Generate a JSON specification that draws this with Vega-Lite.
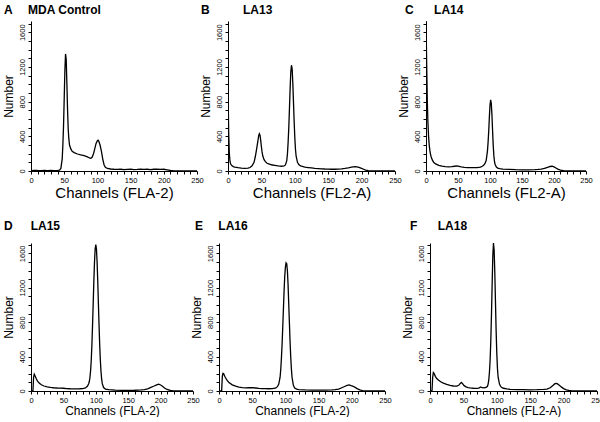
{
"$schema": "https://vega.github.io/schema/vega-lite/v6.json",
"padding": {"left": 1, "top": 4, "right": 0, "bottom": 0},
"background": "white",
"config": {
 "view": {"stroke": null},
 "font": "Liberation Sans",
 "axis": {"domainColor": "black", "domainWidth": 1, "tickColor": "black", "tickSize": 3, "tickWidth": 1, "labelColor": "black", "labelFont": "Liberation Sans", "titleFont": "Liberation Sans", "titleFontWeight": "normal", "titleColor": "black", "grid": false, "labelOverlap": false, "labelFlush": false},
 "axisX": {"labelFontSize": 7.5, "labelPadding": 2, "titlePadding": 2},
 "axisY": {"labelFontSize": 7.5, "labelAngle": -90, "labelAlign": "center", "labelBaseline": "bottom", "labelPadding": 2, "titleFontSize": 12, "titlePadding": 3},
 "title": {"font": "Liberation Sans", "fontSize": 12, "fontWeight": "bold", "anchor": "start", "frame": "group", "color": "black", "baseline": "alphabetic"},
 "line": {"color": "black", "strokeWidth": 1.3}
},
"datasets": {"h": [
{"p":"A","ch":0,"n":5},{"p":"A","ch":5,"n":8},{"p":"A","ch":10,"n":6},{"p":"A","ch":15,"n":5},{"p":"A","ch":20,"n":7},{"p":"A","ch":25,"n":5},{"p":"A","ch":30,"n":6},{"p":"A","ch":35,"n":5},{"p":"A","ch":40,"n":7},{"p":"A","ch":43,"n":10},{"p":"A","ch":45,"n":30},{"p":"A","ch":47,"n":140},{"p":"A","ch":48,"n":300},{"p":"A","ch":49,"n":520},{"p":"A","ch":50,"n":830},{"p":"A","ch":51,"n":1150},{"p":"A","ch":52,"n":1350},{"p":"A","ch":53,"n":1290},{"p":"A","ch":54,"n":1020},{"p":"A","ch":55,"n":720},{"p":"A","ch":56,"n":490},{"p":"A","ch":57,"n":370},{"p":"A","ch":58,"n":300},{"p":"A","ch":60,"n":255},{"p":"A","ch":62,"n":228},{"p":"A","ch":65,"n":212},{"p":"A","ch":70,"n":196},{"p":"A","ch":75,"n":185},{"p":"A","ch":80,"n":176},{"p":"A","ch":85,"n":162},{"p":"A","ch":88,"n":150},{"p":"A","ch":90,"n":146},{"p":"A","ch":92,"n":158},{"p":"A","ch":94,"n":195},{"p":"A","ch":96,"n":255},{"p":"A","ch":98,"n":318},{"p":"A","ch":100,"n":350},{"p":"A","ch":101,"n":356},{"p":"A","ch":102,"n":346},{"p":"A","ch":104,"n":300},{"p":"A","ch":106,"n":230},{"p":"A","ch":108,"n":140},{"p":"A","ch":110,"n":72},{"p":"A","ch":112,"n":42},{"p":"A","ch":115,"n":29},{"p":"A","ch":120,"n":23},{"p":"A","ch":125,"n":20},{"p":"A","ch":130,"n":18},{"p":"A","ch":135,"n":20},{"p":"A","ch":140,"n":17},{"p":"A","ch":145,"n":19},{"p":"A","ch":150,"n":21},{"p":"A","ch":155,"n":17},{"p":"A","ch":160,"n":18},{"p":"A","ch":165,"n":20},{"p":"A","ch":170,"n":18},{"p":"A","ch":175,"n":20},{"p":"A","ch":180,"n":17},{"p":"A","ch":185,"n":20},{"p":"A","ch":190,"n":22},{"p":"A","ch":195,"n":19},{"p":"A","ch":200,"n":20},{"p":"A","ch":205,"n":14},{"p":"A","ch":210,"n":6},{"p":"A","ch":215,"n":2},{"p":"A","ch":220,"n":1},{"p":"A","ch":230,"n":0},{"p":"A","ch":250,"n":0},
{"p":"B","ch":0,"n":1000},{"p":"B","ch":1,"n":450},{"p":"B","ch":2,"n":200},{"p":"B","ch":3,"n":110},{"p":"B","ch":4,"n":80},{"p":"B","ch":6,"n":60},{"p":"B","ch":8,"n":50},{"p":"B","ch":10,"n":45},{"p":"B","ch":15,"n":38},{"p":"B","ch":20,"n":32},{"p":"B","ch":25,"n":30},{"p":"B","ch":30,"n":32},{"p":"B","ch":33,"n":40},{"p":"B","ch":36,"n":60},{"p":"B","ch":39,"n":100},{"p":"B","ch":41,"n":170},{"p":"B","ch":43,"n":260},{"p":"B","ch":45,"n":360},{"p":"B","ch":46,"n":410},{"p":"B","ch":47,"n":430},{"p":"B","ch":48,"n":410},{"p":"B","ch":49,"n":350},{"p":"B","ch":50,"n":280},{"p":"B","ch":51,"n":220},{"p":"B","ch":52,"n":175},{"p":"B","ch":54,"n":130},{"p":"B","ch":56,"n":108},{"p":"B","ch":58,"n":92},{"p":"B","ch":60,"n":84},{"p":"B","ch":65,"n":72},{"p":"B","ch":70,"n":65},{"p":"B","ch":75,"n":58},{"p":"B","ch":80,"n":55},{"p":"B","ch":84,"n":58},{"p":"B","ch":86,"n":70},{"p":"B","ch":88,"n":120},{"p":"B","ch":89,"n":200},{"p":"B","ch":90,"n":330},{"p":"B","ch":91,"n":500},{"p":"B","ch":92,"n":720},{"p":"B","ch":93,"n":950},{"p":"B","ch":94,"n":1140},{"p":"B","ch":95,"n":1220},{"p":"B","ch":96,"n":1180},{"p":"B","ch":97,"n":1020},{"p":"B","ch":98,"n":800},{"p":"B","ch":99,"n":580},{"p":"B","ch":100,"n":390},{"p":"B","ch":101,"n":250},{"p":"B","ch":102,"n":170},{"p":"B","ch":104,"n":100},{"p":"B","ch":106,"n":75},{"p":"B","ch":108,"n":62},{"p":"B","ch":110,"n":55},{"p":"B","ch":115,"n":45},{"p":"B","ch":120,"n":40},{"p":"B","ch":125,"n":35},{"p":"B","ch":130,"n":30},{"p":"B","ch":135,"n":28},{"p":"B","ch":140,"n":25},{"p":"B","ch":145,"n":23},{"p":"B","ch":150,"n":22},{"p":"B","ch":155,"n":20},{"p":"B","ch":160,"n":20},{"p":"B","ch":165,"n":22},{"p":"B","ch":170,"n":25},{"p":"B","ch":175,"n":30},{"p":"B","ch":180,"n":36},{"p":"B","ch":185,"n":44},{"p":"B","ch":190,"n":50},{"p":"B","ch":193,"n":48},{"p":"B","ch":196,"n":42},{"p":"B","ch":200,"n":30},{"p":"B","ch":203,"n":20},{"p":"B","ch":206,"n":10},{"p":"B","ch":210,"n":4},{"p":"B","ch":215,"n":1},{"p":"B","ch":220,"n":0},{"p":"B","ch":250,"n":0},
{"p":"C","ch":0,"n":1760},{"p":"C","ch":1,"n":1250},{"p":"C","ch":2,"n":820},{"p":"C","ch":3,"n":560},{"p":"C","ch":4,"n":400},{"p":"C","ch":5,"n":300},{"p":"C","ch":6,"n":240},{"p":"C","ch":7,"n":195},{"p":"C","ch":8,"n":165},{"p":"C","ch":10,"n":125},{"p":"C","ch":12,"n":100},{"p":"C","ch":15,"n":82},{"p":"C","ch":20,"n":65},{"p":"C","ch":25,"n":55},{"p":"C","ch":30,"n":50},{"p":"C","ch":35,"n":48},{"p":"C","ch":40,"n":50},{"p":"C","ch":45,"n":55},{"p":"C","ch":48,"n":58},{"p":"C","ch":50,"n":55},{"p":"C","ch":55,"n":48},{"p":"C","ch":60,"n":42},{"p":"C","ch":65,"n":40},{"p":"C","ch":70,"n":38},{"p":"C","ch":75,"n":38},{"p":"C","ch":80,"n":40},{"p":"C","ch":85,"n":45},{"p":"C","ch":88,"n":55},{"p":"C","ch":90,"n":65},{"p":"C","ch":92,"n":85},{"p":"C","ch":94,"n":120},{"p":"C","ch":96,"n":230},{"p":"C","ch":97,"n":330},{"p":"C","ch":98,"n":460},{"p":"C","ch":99,"n":620},{"p":"C","ch":100,"n":760},{"p":"C","ch":101,"n":820},{"p":"C","ch":102,"n":780},{"p":"C","ch":103,"n":650},{"p":"C","ch":104,"n":470},{"p":"C","ch":105,"n":300},{"p":"C","ch":106,"n":180},{"p":"C","ch":107,"n":110},{"p":"C","ch":108,"n":75},{"p":"C","ch":110,"n":45},{"p":"C","ch":112,"n":34},{"p":"C","ch":115,"n":27},{"p":"C","ch":120,"n":22},{"p":"C","ch":130,"n":18},{"p":"C","ch":140,"n":15},{"p":"C","ch":150,"n":14},{"p":"C","ch":160,"n":14},{"p":"C","ch":170,"n":16},{"p":"C","ch":175,"n":18},{"p":"C","ch":180,"n":22},{"p":"C","ch":185,"n":30},{"p":"C","ch":190,"n":42},{"p":"C","ch":194,"n":52},{"p":"C","ch":197,"n":55},{"p":"C","ch":200,"n":48},{"p":"C","ch":203,"n":35},{"p":"C","ch":206,"n":22},{"p":"C","ch":210,"n":10},{"p":"C","ch":215,"n":3},{"p":"C","ch":220,"n":0},{"p":"C","ch":250,"n":0},
{"p":"D","ch":0,"n":0},{"p":"D","ch":3,"n":3},{"p":"D","ch":4,"n":160},{"p":"D","ch":5,"n":195},{"p":"D","ch":6,"n":180},{"p":"D","ch":8,"n":145},{"p":"D","ch":10,"n":115},{"p":"D","ch":13,"n":90},{"p":"D","ch":16,"n":72},{"p":"D","ch":20,"n":58},{"p":"D","ch":25,"n":48},{"p":"D","ch":30,"n":42},{"p":"D","ch":35,"n":38},{"p":"D","ch":40,"n":35},{"p":"D","ch":45,"n":33},{"p":"D","ch":50,"n":32},{"p":"D","ch":55,"n":28},{"p":"D","ch":60,"n":26},{"p":"D","ch":65,"n":25},{"p":"D","ch":70,"n":25},{"p":"D","ch":75,"n":26},{"p":"D","ch":80,"n":28},{"p":"D","ch":84,"n":35},{"p":"D","ch":87,"n":55},{"p":"D","ch":89,"n":85},{"p":"D","ch":90,"n":110},{"p":"D","ch":91,"n":160},{"p":"D","ch":92,"n":240},{"p":"D","ch":93,"n":360},{"p":"D","ch":94,"n":540},{"p":"D","ch":95,"n":770},{"p":"D","ch":96,"n":1020},{"p":"D","ch":97,"n":1280},{"p":"D","ch":98,"n":1500},{"p":"D","ch":99,"n":1650},{"p":"D","ch":100,"n":1700},{"p":"D","ch":101,"n":1650},{"p":"D","ch":102,"n":1500},{"p":"D","ch":103,"n":1280},{"p":"D","ch":104,"n":1020},{"p":"D","ch":105,"n":770},{"p":"D","ch":106,"n":540},{"p":"D","ch":107,"n":360},{"p":"D","ch":108,"n":230},{"p":"D","ch":109,"n":140},{"p":"D","ch":110,"n":85},{"p":"D","ch":112,"n":40},{"p":"D","ch":115,"n":22},{"p":"D","ch":120,"n":15},{"p":"D","ch":130,"n":10},{"p":"D","ch":140,"n":8},{"p":"D","ch":150,"n":8},{"p":"D","ch":160,"n":9},{"p":"D","ch":170,"n":12},{"p":"D","ch":175,"n":16},{"p":"D","ch":180,"n":25},{"p":"D","ch":185,"n":42},{"p":"D","ch":190,"n":58},{"p":"D","ch":194,"n":72},{"p":"D","ch":197,"n":80},{"p":"D","ch":200,"n":70},{"p":"D","ch":203,"n":55},{"p":"D","ch":206,"n":35},{"p":"D","ch":210,"n":18},{"p":"D","ch":215,"n":6},{"p":"D","ch":220,"n":1},{"p":"D","ch":225,"n":0},{"p":"D","ch":250,"n":0},
{"p":"E","ch":0,"n":0},{"p":"E","ch":4,"n":5},{"p":"E","ch":5,"n":170},{"p":"E","ch":6,"n":205},{"p":"E","ch":7,"n":200},{"p":"E","ch":9,"n":165},{"p":"E","ch":12,"n":125},{"p":"E","ch":15,"n":98},{"p":"E","ch":20,"n":72},{"p":"E","ch":25,"n":56},{"p":"E","ch":30,"n":46},{"p":"E","ch":35,"n":40},{"p":"E","ch":40,"n":36},{"p":"E","ch":45,"n":38},{"p":"E","ch":50,"n":40},{"p":"E","ch":55,"n":35},{"p":"E","ch":60,"n":30},{"p":"E","ch":65,"n":28},{"p":"E","ch":70,"n":27},{"p":"E","ch":75,"n":26},{"p":"E","ch":80,"n":27},{"p":"E","ch":85,"n":32},{"p":"E","ch":88,"n":50},{"p":"E","ch":90,"n":80},{"p":"E","ch":92,"n":160},{"p":"E","ch":93,"n":250},{"p":"E","ch":94,"n":380},{"p":"E","ch":95,"n":540},{"p":"E","ch":96,"n":740},{"p":"E","ch":97,"n":950},{"p":"E","ch":98,"n":1160},{"p":"E","ch":99,"n":1330},{"p":"E","ch":100,"n":1440},{"p":"E","ch":101,"n":1490},{"p":"E","ch":102,"n":1480},{"p":"E","ch":103,"n":1400},{"p":"E","ch":104,"n":1240},{"p":"E","ch":105,"n":1020},{"p":"E","ch":106,"n":800},{"p":"E","ch":107,"n":580},{"p":"E","ch":108,"n":400},{"p":"E","ch":109,"n":260},{"p":"E","ch":110,"n":160},{"p":"E","ch":112,"n":65},{"p":"E","ch":114,"n":35},{"p":"E","ch":117,"n":22},{"p":"E","ch":120,"n":16},{"p":"E","ch":130,"n":12},{"p":"E","ch":140,"n":10},{"p":"E","ch":150,"n":10},{"p":"E","ch":160,"n":10},{"p":"E","ch":170,"n":12},{"p":"E","ch":175,"n":15},{"p":"E","ch":180,"n":22},{"p":"E","ch":185,"n":38},{"p":"E","ch":190,"n":55},{"p":"E","ch":193,"n":65},{"p":"E","ch":196,"n":70},{"p":"E","ch":199,"n":62},{"p":"E","ch":202,"n":55},{"p":"E","ch":205,"n":42},{"p":"E","ch":208,"n":28},{"p":"E","ch":212,"n":14},{"p":"E","ch":216,"n":5},{"p":"E","ch":220,"n":1},{"p":"E","ch":225,"n":0},{"p":"E","ch":250,"n":0},
{"p":"F","ch":0,"n":0},{"p":"F","ch":3,"n":4},{"p":"F","ch":4,"n":160},{"p":"F","ch":5,"n":215},{"p":"F","ch":6,"n":205},{"p":"F","ch":8,"n":170},{"p":"F","ch":10,"n":145},{"p":"F","ch":13,"n":125},{"p":"F","ch":16,"n":108},{"p":"F","ch":20,"n":92},{"p":"F","ch":25,"n":78},{"p":"F","ch":30,"n":66},{"p":"F","ch":35,"n":58},{"p":"F","ch":40,"n":56},{"p":"F","ch":43,"n":66},{"p":"F","ch":45,"n":85},{"p":"F","ch":47,"n":100},{"p":"F","ch":49,"n":82},{"p":"F","ch":51,"n":62},{"p":"F","ch":54,"n":48},{"p":"F","ch":57,"n":40},{"p":"F","ch":60,"n":36},{"p":"F","ch":65,"n":32},{"p":"F","ch":70,"n":30},{"p":"F","ch":73,"n":33},{"p":"F","ch":76,"n":46},{"p":"F","ch":78,"n":38},{"p":"F","ch":81,"n":36},{"p":"F","ch":84,"n":42},{"p":"F","ch":86,"n":55},{"p":"F","ch":87,"n":80},{"p":"F","ch":88,"n":130},{"p":"F","ch":89,"n":220},{"p":"F","ch":90,"n":360},{"p":"F","ch":91,"n":580},{"p":"F","ch":92,"n":880},{"p":"F","ch":93,"n":1230},{"p":"F","ch":94,"n":1560},{"p":"F","ch":95,"n":1720},{"p":"F","ch":96,"n":1640},{"p":"F","ch":97,"n":1380},{"p":"F","ch":98,"n":1040},{"p":"F","ch":99,"n":700},{"p":"F","ch":100,"n":440},{"p":"F","ch":101,"n":260},{"p":"F","ch":102,"n":160},{"p":"F","ch":104,"n":80},{"p":"F","ch":106,"n":50},{"p":"F","ch":108,"n":38},{"p":"F","ch":110,"n":32},{"p":"F","ch":115,"n":25},{"p":"F","ch":120,"n":20},{"p":"F","ch":130,"n":17},{"p":"F","ch":140,"n":15},{"p":"F","ch":150,"n":14},{"p":"F","ch":160,"n":15},{"p":"F","ch":170,"n":18},{"p":"F","ch":175,"n":22},{"p":"F","ch":180,"n":38},{"p":"F","ch":184,"n":65},{"p":"F","ch":187,"n":85},{"p":"F","ch":189,"n":88},{"p":"F","ch":191,"n":82},{"p":"F","ch":194,"n":65},{"p":"F","ch":197,"n":45},{"p":"F","ch":200,"n":28},{"p":"F","ch":204,"n":14},{"p":"F","ch":208,"n":6},{"p":"F","ch":212,"n":2},{"p":"F","ch":215,"n":0},{"p":"F","ch":250,"n":0}
]},
"spacing": 19,
"vconcat": [
 {"hconcat": [
  {"width": 166, "height": 150, "title": {"text": "A\u2003 MDA Control", "dx": -27, "offset": 4},
   "data": {"name": "h"}, "transform": [{"filter": "datum.p === 'A'"}],
   "mark": {"type": "line", "clip": true},
   "encoding": {
    "x": {"field": "ch", "type": "quantitative", "scale": {"domain": [0, 250], "nice": false, "zero": false}, "axis": {"title": "Channels (FLA-2)", "titleFontSize": 15, "format": "d", "values": [0,10,20,30,40,50,60,70,80,90,100,110,120,130,140,150,160,170,180,190,200,210,220,230,240,250], "labelExpr": "datum.value % 50 === 0 ? datum.label : ''"}},
    "y": {"field": "n", "type": "quantitative", "scale": {"domain": [0, 1730], "nice": false}, "axis": {"title": "Number", "format": "d", "values": [0,100,200,300,400,500,600,700,800,900,1000,1100,1200,1300,1400,1500,1600,1700], "labelExpr": "datum.value % 400 === 0 ? datum.label : ''"}}
   }},
  {"width": 167, "height": 150, "title": {"text": "B\u2003\u2003\u2002 LA13", "dx": -27, "offset": 4},
   "data": {"name": "h"}, "transform": [{"filter": "datum.p === 'B'"}],
   "mark": {"type": "line", "clip": true},
   "encoding": {
    "x": {"field": "ch", "type": "quantitative", "scale": {"domain": [0, 250], "nice": false, "zero": false}, "axis": {"title": "Channels (FL2-A)", "titleFontSize": 15, "format": "d", "values": [0,10,20,30,40,50,60,70,80,90,100,110,120,130,140,150,160,170,180,190,200,210,220,230,240,250], "labelExpr": "datum.value % 50 === 0 ? datum.label : ''"}},
    "y": {"field": "n", "type": "quantitative", "scale": {"domain": [0, 1730], "nice": false}, "axis": {"title": "Number", "format": "d", "values": [0,100,200,300,400,500,600,700,800,900,1000,1100,1200,1300,1400,1500,1600,1700], "labelExpr": "datum.value % 400 === 0 ? datum.label : ''"}}
   }},
  {"width": 160, "height": 150, "title": {"text": "C\u2003\u2002\u2009LA14", "dx": -21, "offset": 4},
   "data": {"name": "h"}, "transform": [{"filter": "datum.p === 'C'"}],
   "mark": {"type": "line", "clip": true},
   "encoding": {
    "x": {"field": "ch", "type": "quantitative", "scale": {"domain": [0, 250], "nice": false, "zero": false}, "axis": {"title": "Channels (FL2-A)", "titleFontSize": 15, "format": "d", "values": [0,10,20,30,40,50,60,70,80,90,100,110,120,130,140,150,160,170,180,190,200,210,220,230,240,250], "labelExpr": "datum.value % 50 === 0 ? datum.label : ''"}},
    "y": {"field": "n", "type": "quantitative", "scale": {"domain": [0, 1730], "nice": false}, "axis": {"title": "Number", "format": "d", "values": [0,100,200,300,400,500,600,700,800,900,1000,1100,1200,1300,1400,1500,1600,1700], "labelExpr": "datum.value % 400 === 0 ? datum.label : ''"}}
   }}
 ], "spacing": 31, "bounds": "flush"},
 {"hconcat": [
  {"hconcat": [
   {"width": 162, "height": 148, "title": {"text": "D\u2003\u2002LA15", "dx": -27, "offset": 10},
    "data": {"name": "h"}, "transform": [{"filter": "datum.p === 'D'"}],
    "mark": {"type": "line", "clip": true},
    "encoding": {
     "x": {"field": "ch", "type": "quantitative", "scale": {"domain": [0, 250], "nice": false, "zero": false}, "axis": {"title": "Channels (FLA-2)", "titleFontSize": 12, "format": "d", "values": [0,10,20,30,40,50,60,70,80,90,100,110,120,130,140,150,160,170,180,190,200,210,220,230,240,250], "labelExpr": "datum.value % 50 === 0 ? datum.label : ''"}},
     "y": {"field": "n", "type": "quantitative", "scale": {"domain": [0, 1720], "nice": false}, "axis": {"title": "Number", "format": "d", "values": [0,100,200,300,400,500,600,700,800,900,1000,1100,1200,1300,1400,1500,1600,1700], "labelExpr": "datum.value % 400 === 0 ? datum.label : ''"}}
    }},
   {"width": 166, "height": 148, "title": {"text": "E\u2003 LA16", "dx": -24, "offset": 10},
    "data": {"name": "h"}, "transform": [{"filter": "datum.p === 'E'"}],
    "mark": {"type": "line", "clip": true},
    "encoding": {
     "x": {"field": "ch", "type": "quantitative", "scale": {"domain": [0, 250], "nice": false, "zero": false}, "axis": {"title": "Channels (FLA-2)", "titleFontSize": 12, "format": "d", "values": [0,10,20,30,40,50,60,70,80,90,100,110,120,130,140,150,160,170,180,190,200,210,220,230,240,250], "labelExpr": "datum.value % 50 === 0 ? datum.label : ''"}},
     "y": {"field": "n", "type": "quantitative", "scale": {"domain": [0, 1720], "nice": false}, "axis": {"title": "Number", "format": "d", "values": [0,100,200,300,400,500,600,700,800,900,1000,1100,1200,1300,1400,1500,1600,1700], "labelExpr": "datum.value % 400 === 0 ? datum.label : ''"}}
    }}
  ], "spacing": -10},
  {"width": 167, "height": 148, "title": {"text": "F\u2003\u2002\u2009LA18", "dx": -20, "offset": 10},
   "data": {"name": "h"}, "transform": [{"filter": "datum.p === 'F'"}],
   "mark": {"type": "line", "clip": true},
   "encoding": {
    "x": {"field": "ch", "type": "quantitative", "scale": {"domain": [0, 250], "nice": false, "zero": false}, "axis": {"title": "Channels (FL2-A)", "titleFontSize": 12, "format": "d", "values": [0,10,20,30,40,50,60,70,80,90,100,110,120,130,140,150,160,170,180,190,200,210,220,230,240,250], "labelExpr": "datum.value % 50 === 0 ? datum.label : ''"}},
    "y": {"field": "n", "type": "quantitative", "scale": {"domain": [0, 1720], "nice": false}, "axis": {"title": "Number", "format": "d", "values": [0,100,200,300,400,500,600,700,800,900,1000,1100,1200,1300,1400,1500,1600,1700], "labelExpr": "datum.value % 400 === 0 ? datum.label : ''"}}
   }}
 ], "spacing": 9}
]
}
